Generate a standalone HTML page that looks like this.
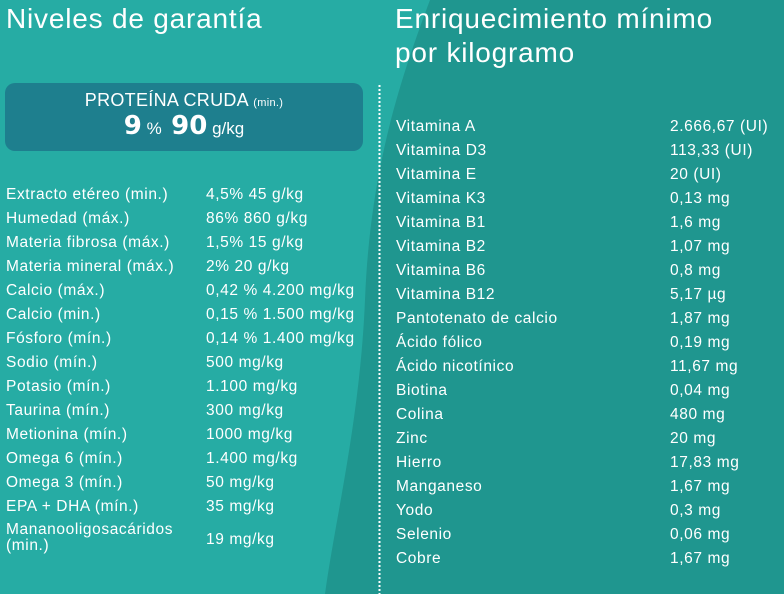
<!DOCTYPE html>
<html><head><meta charset="utf-8"><style>
body{margin:0;width:784px;height:594px;overflow:hidden;position:relative;font-family:"Liberation Sans",sans-serif;color:#fff;background:#26aca4}
.t{position:absolute;font-size:15.5px;letter-spacing:0.6px;white-space:nowrap;line-height:18px}
h1{position:absolute;margin:0;font-weight:normal;font-size:28px;letter-spacing:0.8px;line-height:34px}
</style></head><body>
<svg width="784" height="594" style="position:absolute;left:0;top:0">
<path d="M430 0 C400 80 370 170 365 300 C360 420 335 520 325 594 L784 594 L784 0 Z" fill="#1f968f"/>
<line x1="379.5" y1="85" x2="379.5" y2="594" stroke="#fff" stroke-width="2" stroke-dasharray="2 2"/>
</svg>
<h1 style="left:6px;top:2px">Niveles de garantía</h1>
<h1 style="left:395px;top:2px">Enriquecimiento mínimo<br>por kilogramo</h1>
<div style="position:absolute;left:5px;top:83px;width:358px;height:68px;background:#1e7f8e;border-radius:10px;text-align:center">
<div style="margin-top:7px;font-size:18px;letter-spacing:0.3px">PROTEÍNA CRUDA <span style="font-size:11px">(min.)</span></div>
<div style="margin-top:0px;font-size:17px"><b style="font-size:26px;font-family:'DejaVu Sans',sans-serif">9</b> % &nbsp;<b style="font-size:26px;font-family:'DejaVu Sans',sans-serif">90</b> g/kg</div>
</div>
<div class="t" style="left:6px;top:186px">Extracto etéreo (min.)</div><div class="t" style="left:206px;top:186px">4,5% 45 g/kg</div>
<div class="t" style="left:6px;top:210px">Humedad (máx.)</div><div class="t" style="left:206px;top:210px">86% 860 g/kg</div>
<div class="t" style="left:6px;top:234px">Materia fibrosa (máx.)</div><div class="t" style="left:206px;top:234px">1,5% 15 g/kg</div>
<div class="t" style="left:6px;top:258px">Materia mineral (máx.)</div><div class="t" style="left:206px;top:258px">2% 20 g/kg</div>
<div class="t" style="left:6px;top:282px">Calcio (máx.)</div><div class="t" style="left:206px;top:282px">0,42 % 4.200 mg/kg</div>
<div class="t" style="left:6px;top:306px">Calcio (min.)</div><div class="t" style="left:206px;top:306px">0,15 % 1.500 mg/kg</div>
<div class="t" style="left:6px;top:330px">Fósforo (mín.)</div><div class="t" style="left:206px;top:330px">0,14 % 1.400 mg/kg</div>
<div class="t" style="left:6px;top:354px">Sodio (mín.)</div><div class="t" style="left:206px;top:354px">500 mg/kg</div>
<div class="t" style="left:6px;top:378px">Potasio (mín.)</div><div class="t" style="left:206px;top:378px">1.100 mg/kg</div>
<div class="t" style="left:6px;top:402px">Taurina (mín.)</div><div class="t" style="left:206px;top:402px">300 mg/kg</div>
<div class="t" style="left:6px;top:426px">Metionina (mín.)</div><div class="t" style="left:206px;top:426px">1000 mg/kg</div>
<div class="t" style="left:6px;top:450px">Omega 6 (mín.)</div><div class="t" style="left:206px;top:450px">1.400 mg/kg</div>
<div class="t" style="left:6px;top:474px">Omega 3 (mín.)</div><div class="t" style="left:206px;top:474px">50 mg/kg</div>
<div class="t" style="left:6px;top:498px">EPA + DHA (mín.)</div><div class="t" style="left:206px;top:498px">35 mg/kg</div>
<div class="t" style="left:6px;top:522px;line-height:16px">Mananooligosacáridos<br>(min.)</div><div class="t" style="left:206px;top:531px">19 mg/kg</div>
<div class="t" style="left:396px;top:118px">Vitamina A</div><div class="t" style="left:670px;top:118px">2.666,67 (UI)</div>
<div class="t" style="left:396px;top:142px">Vitamina D3</div><div class="t" style="left:670px;top:142px">113,33 (UI)</div>
<div class="t" style="left:396px;top:166px">Vitamina E</div><div class="t" style="left:670px;top:166px">20 (UI)</div>
<div class="t" style="left:396px;top:190px">Vitamina K3</div><div class="t" style="left:670px;top:190px">0,13 mg</div>
<div class="t" style="left:396px;top:214px">Vitamina B1</div><div class="t" style="left:670px;top:214px">1,6 mg</div>
<div class="t" style="left:396px;top:238px">Vitamina B2</div><div class="t" style="left:670px;top:238px">1,07 mg</div>
<div class="t" style="left:396px;top:262px">Vitamina B6</div><div class="t" style="left:670px;top:262px">0,8 mg</div>
<div class="t" style="left:396px;top:286px">Vitamina B12</div><div class="t" style="left:670px;top:286px">5,17 µg</div>
<div class="t" style="left:396px;top:310px">Pantotenato de calcio</div><div class="t" style="left:670px;top:310px">1,87 mg</div>
<div class="t" style="left:396px;top:334px">Ácido fólico</div><div class="t" style="left:670px;top:334px">0,19 mg</div>
<div class="t" style="left:396px;top:358px">Ácido nicotínico</div><div class="t" style="left:670px;top:358px">11,67 mg</div>
<div class="t" style="left:396px;top:382px">Biotina</div><div class="t" style="left:670px;top:382px">0,04 mg</div>
<div class="t" style="left:396px;top:406px">Colina</div><div class="t" style="left:670px;top:406px">480 mg</div>
<div class="t" style="left:396px;top:430px">Zinc</div><div class="t" style="left:670px;top:430px">20 mg</div>
<div class="t" style="left:396px;top:454px">Hierro</div><div class="t" style="left:670px;top:454px">17,83 mg</div>
<div class="t" style="left:396px;top:478px">Manganeso</div><div class="t" style="left:670px;top:478px">1,67 mg</div>
<div class="t" style="left:396px;top:502px">Yodo</div><div class="t" style="left:670px;top:502px">0,3 mg</div>
<div class="t" style="left:396px;top:526px">Selenio</div><div class="t" style="left:670px;top:526px">0,06 mg</div>
<div class="t" style="left:396px;top:550px">Cobre</div><div class="t" style="left:670px;top:550px">1,67 mg</div>
</body></html>
